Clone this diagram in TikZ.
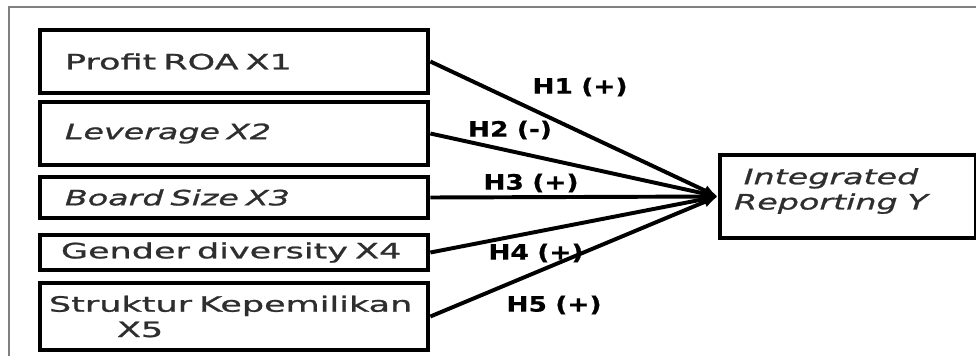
\documentclass[tikz,border=0pt]{standalone}
\usepackage{fontspec}
\setmainfont{DejaVu Sans}[FakeStretch=1.66, FakeBold=1.1]
\newfontfamily\varit{DejaVu Sans}[FakeStretch=1.58, FakeBold=1.1]
\newfontfamily\hypfont{DejaVu Sans}[FakeStretch=1.25, FakeBold=0.8]
\usetikzlibrary{arrows.meta}
\newcommand\boxfont{\fontsize{15}{18}\selectfont\spaceskip=7pt plus 2pt\relax}
\newcommand\hypsize{\hypfont\bfseries\fontsize{15}{18}\selectfont\spaceskip=6pt plus 2pt\relax}

\begin{document}
\begin{tikzpicture}[x=0.025cm, y=-0.025cm,
  varbox/.style={draw, line width=3.3pt, rectangle, minimum width=9.7cm,
    text width=8.45cm, inner xsep=0.6cm, align=left, text=black!82,
    font=\boxfont},
  ybox/.style={draw, line width=3.3pt, rectangle, minimum width=6.4cm, minimum height=2.075cm},
  hyp/.style={font=\hypsize},
  link/.style={line width=2.8pt, -{Latex[length=10pt,width=8pt]}}]

\useasboundingbox (0,0) rectangle (976,356);
% outer frame
\draw[gray, line width=1.4pt] (9,356) -- (9,7) -- (976,7);

% independent variables
\node[varbox, minimum height=1.575cm] (x1) at (234,61.5) {Profit ROA X1};
\node[varbox, minimum height=1.575cm] (x2) at (234,133.5) {\varit\itshape Leverage X2};
\node[varbox, minimum height=1.025cm] (x3) at (234,197.5) {\varit\itshape Board Size X3};
\node[varbox, minimum height=0.875cm, inner xsep=0.5cm, text width=8.65cm] (x4) at (234,252.5) {Gender diversity X4};
\node[varbox, minimum height=1.675cm, inner xsep=0.2cm, text width=9.25cm] (x5) at (234,316.5)
  {Struktur Kepemilikan\\[0pt]\hspace*{1.7cm}X5};

% dependent variable
\node[ybox] (y) at (848,196.5) {};
\node[align=center, text=black!82, font=\varit\itshape\boxfont] (ytext) at (831,191)
  {Integrated\\Reporting Y};

% hypotheses
\draw[link] (x1.east) -- (y.west);
\draw[link] (x2.east) -- (y.west);
\draw[link] (x3.east) -- (y.west);
\draw[link] (x4.east) -- (y.west);
\draw[link] (x5.east) -- (y.west);

\node[hyp] (h1) at (580,87) {H1 (+)};
\node[hyp] (h2) at (510,130) {H2 (-)};
\node[hyp] (h3) at (531,183) {H3 (+)};
\node[hyp] (h4) at (536,253) {H4 (+)};
\node[hyp] (h5) at (554,305) {H5 (+)};
\end{tikzpicture}
\end{document}
